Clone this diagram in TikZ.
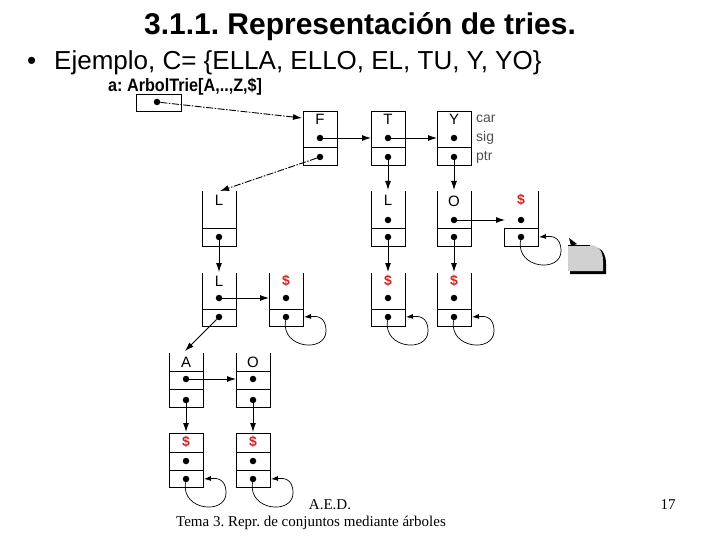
\documentclass[tikz,border=0pt]{standalone}
\usepackage{fontspec}
\setmainfont{Liberation Sans}
\newfontfamily\serifft{Liberation Serif}
\usetikzlibrary{arrows.meta}
\frenchspacing
\definecolor{dollarred}{RGB}{205,35,35}
\definecolor{lblgray}{RGB}{80,80,80}
\newcommand\boxTop[1]{\draw[cellline] (#1,111) rectangle (#1+34,165); \draw[cellline] (#1,147) -- (#1+34,147);}
\newcommand\boxOpen[4]{\draw[cellline] (#1,#2) -- (#1,#4) -- (#1+34,#4) -- (#1+34,#2); \draw[cellline] (#1,#3) -- (#1+34,#3);}
\newcommand\boxOpenThree[1]{\draw[cellline] (#1,353) -- (#1,407) -- (#1+34,407) -- (#1+34,353); \draw[cellline] (#1,371) -- (#1+34,371) (#1,389) -- (#1+34,389);}
\newcommand\boxClosedThree[1]{\draw[cellline] (#1,433) rectangle (#1+34,487); \draw[cellline] (#1,452) -- (#1+34,452) (#1,470) -- (#1+34,470);}
\newcommand\selfloop[1]{\draw[loopar] (#1) .. controls ([shift={(-5,32)}]#1.center) and ([shift={(40,36)}]#1.center) .. ([shift={(40,14)}]#1.center) .. controls ([shift={(40,-1)}]#1.center) and ([shift={(30,-1)}]#1.center) .. ([shift={(18,0)}]#1.center);}
\begin{document}
\begin{tikzpicture}[x=1pt,y=-1pt,
  cellline/.style={line width=0.8pt},
  dotn/.style={circle,fill=black,inner sep=0pt,minimum size=6.5pt},
  arr/.style={line width=0.9pt,-{Latex[length=9pt,width=6pt]}},
  dasharr/.style={arr,dash pattern=on 7pt off 1.5pt on 1.5pt off 1.5pt},
  loopar/.style={line width=0.7pt,-{Latex[length=7pt,width=5pt]}},
  lett/.style={font=\fontsize{15}{15}\selectfont, inner sep=0pt},
  dol/.style={font=\bfseries\fontsize{14}{14}\selectfont, text=dollarred, inner sep=0pt},
  fld/.style={font=\fontsize{14}{14}\selectfont, text=lblgray, inner sep=0pt, anchor=west},
]
\useasboundingbox (0,0) rectangle (720,540);

% texts
\node[font=\bfseries\fontsize{30}{30}\selectfont, inner sep=0pt, anchor=base] (title) at (360,35) {3.1.1. Representación de tries.};
\node[font=\fontsize{26}{26}\selectfont, inner sep=0pt, anchor=base west] (bul) at (27,70) {•};
\node[font=\fontsize{26}{26}\selectfont, inner sep=0pt, anchor=base west] (ej) at (54,70) {Ejemplo, C= \{ELLA, ELLO, EL, TU, Y, YO\}};
\node[font=\bfseries\fontsize{18}{18}\selectfont, inner sep=0pt, anchor=base west, xscale=0.9] (atype) at (108,92) {a: ArbolTrie[A,..,Z,\$]};
\node[font=\serifft\fontsize{15}{15}\selectfont, inner sep=0pt, anchor=base] (aed) at (330,509) {A.E.D.};
\node[font=\serifft\fontsize{15}{15}\selectfont, inner sep=0pt, anchor=base] (tema) at (311,526) {Tema 3. Repr. de conjuntos mediante árboles};
\node[font=\serifft\fontsize{15}{15}\selectfont, inner sep=0pt, anchor=base] (pg) at (668,509) {17};

% root pointer box
\draw[cellline] (136,94) rectangle (181,111);
\node[dotn] (a) at (157,102) {};
\coordinate (Fin) at (302,118);
\draw[dasharr] (a) -- (Fin);

% row 1
\boxTop{303} \boxTop{371} \boxTop{437}
\node[lett] (tF) at (320,119) {F};
\node[lett] (tT) at (388,119) {T};
\node[lett] (tY) at (454,119) {Y};
\node[fld] (car) at (476,119) {car};
\node[fld] (sig) at (476,138) {sig};
\node[fld] (ptr) at (476,157) {ptr};
\node[dotn] (Fs) at (320,138) {}; \node[dotn] (Fp) at (320,157) {};
\node[dotn] (Ts) at (388,138) {}; \node[dotn] (Tp) at (388,157) {};
\node[dotn] (Ys) at (454,138) {}; \node[dotn] (Yp) at (454,157) {};
\coordinate (Tw) at (371,138); \coordinate (Yw) at (437,138);
\draw[arr] (Fs) -- (Tw);
\draw[arr] (Ts) -- (Yw);

% row 2
\boxOpen{202}{191}{228}{246}
\boxOpen{371}{191}{228}{246}
\boxOpen{437}{191}{228}{246}
\draw[cellline] (538,191) -- (538,246) -- (504,246) -- (504,228) -- (538,228);
\node[lett] (r2a) at (219,200) {L};
\node[lett] (r2b) at (388,200) {L};
\node[lett] (r2c) at (454,201) {O};
\node[dol] (r2d) at (521,200) {\$};
\node[dotn] (L1p) at (219,237) {};
\node[dotn] (L2s) at (388,220) {}; \node[dotn] (L2p) at (388,237) {};
\node[dotn] (Os) at (454,220) {}; \node[dotn] (Op) at (454,237) {};
\node[dotn] (D1s) at (521,220) {}; \node[dotn] (D1p) at (521,237) {};
\coordinate (L1top) at (220,191);
\coordinate (L2top) at (388,190); \coordinate (Otop) at (454,190);
\coordinate (D1w) at (505,220);
\draw[dasharr] (Fp) -- (L1top);
\draw[arr] (Tp) -- (L2top);
\draw[arr] (Yp) -- (Otop);
\draw[arr] (Os) -- (D1w);
\selfloop{D1p}

% row 3
\boxOpen{202}{273}{309}{326}
\boxOpen{269}{273}{309}{326}
\boxOpen{371}{273}{309}{326}
\boxOpen{437}{273}{309}{326}
\node[lett] (r3a) at (219,281) {L};
\node[dol] (r3b) at (286,281) {\$};
\node[dol] (r3c) at (388,281) {\$};
\node[dol] (r3d) at (454,281) {\$};
\node[dotn] (L3s) at (219,298) {}; \node[dotn] (L3p) at (219,317) {};
\node[dotn] (D2s) at (286,298) {}; \node[dotn] (D2p) at (286,317) {};
\node[dotn] (D3s) at (388,298) {}; \node[dotn] (D3p) at (388,317) {};
\node[dotn] (D4s) at (454,298) {}; \node[dotn] (D4p) at (454,317) {};
\coordinate (L3top) at (219,272); \coordinate (D3top) at (388,272); \coordinate (D4top) at (454,272);
\coordinate (D2w) at (269,298);
\draw[arr] (L1p) -- (L3top);
\draw[arr] (L2p) -- (D3top);
\draw[arr] (Op) -- (D4top);
\draw[arr] (L3s) -- (D2w);
\selfloop{D2p} \selfloop{D3p} \selfloop{D4p}

% row 4
\boxOpenThree{169} \boxOpenThree{236}
\node[lett] (r4a) at (186,362) {A};
\node[lett] (r4b) at (253,362) {O};
\node[dotn] (As) at (186,379) {}; \node[dotn] (Ap) at (186,400) {};
\node[dotn] (O2s) at (253,379) {}; \node[dotn] (O2p) at (253,400) {};
\coordinate (Atop) at (185,351); \coordinate (O2w) at (236,379);
\draw[arr] (L3p) -- (Atop);
\draw[arr] (As) -- (O2w);

% row 5
\boxClosedThree{169} \boxClosedThree{236}
\node[dol] (r5a) at (186,442) {\$};
\node[dol] (r5b) at (253,442) {\$};
\node[dotn] (D5s) at (186,461) {}; \node[dotn] (D5p) at (186,479) {};
\node[dotn] (D6s) at (253,461) {}; \node[dotn] (D6p) at (253,479) {};
\coordinate (D5top) at (186,432); \coordinate (D6top) at (253,432);
\draw[arr] (Ap) -- (D5top);
\draw[arr] (O2p) -- (D6top);
\selfloop{D5p} \selfloop{D6p}

% grey artefact
\fill[black] (570,247) -- (592,247) .. controls (602,247) and (606,254) .. (606,264) -- (606,274) -- (570,274) -- cycle;
\fill[black!18] (568,245) -- (590,245) .. controls (599,245) and (603,252) .. (603,261) -- (603,271) -- (568,271) -- cycle;
\draw[line width=0.6pt] (568,245) -- (590,245);
\fill[black] (569,238) -- (577,244) -- (571,246) -- cycle;
\end{tikzpicture}
\end{document}
